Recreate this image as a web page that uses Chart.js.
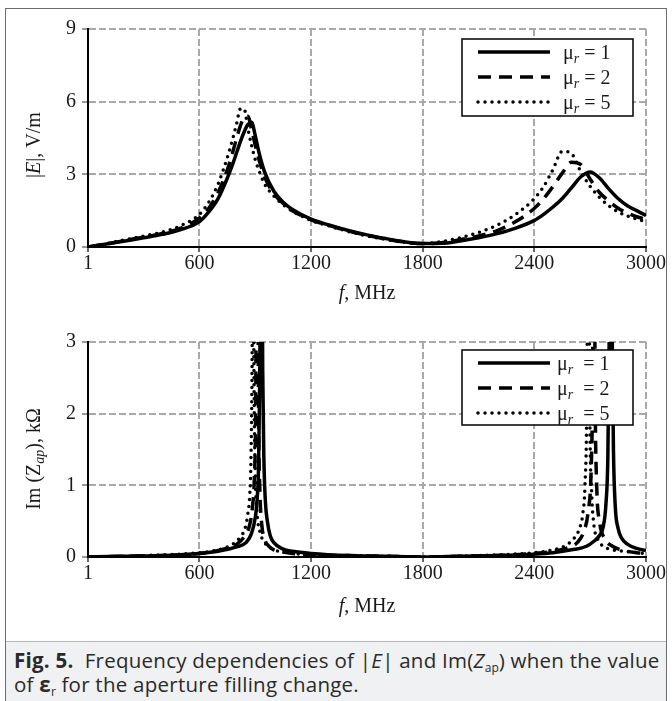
<!DOCTYPE html>
<html>
<head>
<meta charset="utf-8">
<script src="https://cdn.jsdelivr.net/npm/chart.js@4.4.1/dist/chart.umd.min.js"></script>
<style>
  body { margin: 0; background: #fff; width: 672px; height: 701px; overflow: hidden; position: relative; }
  #frame { position: absolute; left: 5px; top: 8px; width: 662px; height: 700px; border: 1.5px solid #6d6d6d; box-sizing: border-box; }
  #caption { position: absolute; left: 6px; top: 641px; width: 660px; height: 70px; background: #f0f1f3;
    border-top: 1px solid #b8b8b8; box-sizing: border-box; padding: 6px 0 0 8px;
    font-family: "Open Sans", sans-serif; font-size: 20.5px; letter-spacing: 0.25px; line-height: 24px; color: #2a2a2a; white-space: nowrap; }
  #caption sub { font-size: 12px; vertical-align: -4px; line-height: 0; letter-spacing: 0; }
  canvas { position: absolute; left: 0; }
</style>
</head>
<body>
<div id="frame"></div>
<canvas id="chartE" width="672" height="320" style="top:0"></canvas>
<canvas id="chartZ" width="672" height="320" style="top:320px"></canvas>
<div id="caption"><b>Fig. 5.</b>&nbsp; Frequency dependencies of |<i>E</i>| and Im(<i>Z</i><sub>ap</sub>) when the value<br>of <b>ε</b><sub>r</sub> for the aperture filling change.</div>
<script>
// --- data ---
const xTicks = [1, 600, 1200, 1800, 2400, 3000];
const muValues = [1, 2, 5];

// |E|, V/m
const freqE = [1, 100, 200, 300, 400, 500, 600, 650, 700, 750, 780, 800, 820, 840, 860, 880, 900, 920, 950,
  1000, 1050, 1100, 1200, 1300, 1400, 1500, 1600, 1700, 1800, 1900, 2000, 2100, 2200, 2300, 2400,
  2450, 2500, 2550, 2600, 2650, 2700, 2750, 2800, 2850, 2900, 2950, 3000];
const eMu1 = [0.0, 0.12, 0.25, 0.38, 0.52, 0.72, 1.05, 1.45, 2.0, 2.85, 3.45, 3.9, 4.35, 4.75, 5.05, 5.15, 4.6, 3.9, 3.1,
  2.3, 1.85, 1.55, 1.15, 0.9, 0.68, 0.5, 0.35, 0.22, 0.14, 0.15, 0.25, 0.38, 0.55, 0.78, 1.1,
  1.35, 1.65, 2.0, 2.45, 2.9, 3.1, 2.85, 2.4, 2.0, 1.7, 1.5, 1.3];
const eMu2 = [0.0, 0.13, 0.27, 0.41, 0.56, 0.78, 1.2, 1.6, 2.25, 3.2, 3.95, 4.5, 5.0, 5.35, 5.4, 4.85, 4.2, 3.6, 2.9,
  2.2, 1.8, 1.5, 1.12, 0.88, 0.66, 0.48, 0.33, 0.21, 0.14, 0.18, 0.3, 0.46, 0.68, 1.05, 1.6,
  2.0, 2.5, 3.05, 3.5, 3.4, 2.8, 2.25, 1.9, 1.6, 1.4, 1.25, 1.15];
const eMu5 = [0.0, 0.14, 0.3, 0.45, 0.62, 0.88, 1.35, 1.85, 2.6, 3.7, 4.5, 5.1, 5.7, 5.7, 4.9, 4.2, 3.6, 3.15, 2.6,
  2.1, 1.75, 1.48, 1.1, 0.86, 0.64, 0.46, 0.31, 0.2, 0.14, 0.22, 0.38, 0.6, 0.9, 1.35, 2.0,
  2.5, 3.2, 3.95, 3.85, 3.1, 2.5, 2.05, 1.7, 1.45, 1.28, 1.15, 1.05];

// Im(Z_ap), kOhm (resonances run off the top of the axis)
const freqZ1 = [1, 200, 400, 600, 700, 800, 850, 880, 900, 910, 918, 924, 932, 940, 946, 955, 965, 980,
  1000, 1050, 1100, 1200, 1400, 1600, 1800, 2000, 2200, 2400, 2500, 2600,
  2680, 2720, 2750, 2770, 2785, 2795, 2802, 2810, 2818, 2825, 2835, 2850, 2870, 2900, 2950, 3000];
const zMu1 = [0, 0.01, 0.02, 0.05, 0.08, 0.14, 0.2, 0.33, 0.55, 0.8, 1.3, 2.5, 6, 2.6, 1.4, 0.75, 0.5, 0.3,
  0.2, 0.11, 0.08, 0.05, 0.02, 0.01, 0.0, 0.01, 0.02, 0.04, 0.06, 0.1,
  0.15, 0.22, 0.3, 0.42, 0.75, 1.4, 3.0, 6, 3.2, 1.5, 0.7, 0.4, 0.26, 0.18, 0.12, 0.09];
const freqZ2 = [1, 200, 400, 600, 700, 800, 840, 870, 885, 895, 902, 910, 918, 925, 935, 950, 970,
  1000, 1050, 1100, 1200, 1400, 1600, 1800, 2000, 2200, 2400, 2500,
  2580, 2630, 2665, 2690, 2705, 2713, 2720, 2727, 2735, 2750, 2780, 2820, 2880, 2950, 3000];
const zMu2 = [0, 0.01, 0.02, 0.05, 0.09, 0.18, 0.28, 0.45, 0.7, 1.1, 2.0, 6, 1.9, 0.9, 0.45, 0.25, 0.16,
  0.1, 0.07, 0.05, 0.03, 0.02, 0.01, 0.0, 0.01, 0.02, 0.05, 0.08,
  0.13, 0.2, 0.35, 0.65, 1.2, 2.4, 6, 2.2, 1.0, 0.5, 0.25, 0.15, 0.09, 0.06, 0.05];
const freqZ5 = [1, 200, 400, 600, 700, 780, 820, 845, 860, 870, 877, 883, 888, 893, 900, 910, 925, 945, 970,
  1000, 1050, 1100, 1200, 1400, 1600, 1800, 2000, 2200, 2400, 2500,
  2560, 2610, 2640, 2660, 2672, 2682, 2690, 2698, 2708, 2720, 2740, 2770, 2820, 2880, 2950, 3000];
const zMu5 = [0, 0.01, 0.03, 0.06, 0.1, 0.18, 0.28, 0.4, 0.6, 0.85, 1.4, 2.8, 6, 2.6, 1.2, 0.6, 0.35, 0.22, 0.15,
  0.1, 0.07, 0.05, 0.03, 0.02, 0.01, 0.0, 0.01, 0.03, 0.06, 0.1,
  0.15, 0.25, 0.38, 0.6, 1.0, 2.2, 6, 2.0, 0.9, 0.45, 0.25, 0.15, 0.1, 0.08, 0.06, 0.05];

const SERIF = '"Liberation Serif", "Times New Roman", serif';
const INK = '#1a1a1a';
const lineStyles = [
  { dash: [], cap: 'butt' },
  { dash: [13, 8], cap: 'butt' },
  { dash: [0, 7], cap: 'round' }
];

const pairs = (xs, ys) => xs.map((x, i) => ({ x: x, y: ys[i] }));

// draws a run of text pieces (italic / subscript) on one baseline
function drawRich(ctx, segs, x, y, size, align) {
  const font = s => (s.i ? 'italic ' : '') + (s.sub ? Math.round(size * 0.72) : size) + 'px ' + SERIF;
  let w = 0;
  segs.forEach(s => { ctx.font = font(s); w += ctx.measureText(s.t).width; });
  let cx = align === 'left' ? x : x - w / 2;
  ctx.textBaseline = 'alphabetic';
  ctx.textAlign = 'left';
  segs.forEach(s => {
    ctx.font = font(s);
    ctx.fillText(s.t, cx, y + (s.sub ? size * 0.22 : 0));
    cx += ctx.measureText(s.t).width;
  });
}

const decor = {
  id: 'decor',
  afterDraw(chart, args, o) {
    const ctx = chart.ctx, a = chart.chartArea;
    ctx.save();
    ctx.fillStyle = INK;
    drawRich(ctx, o.xTitle, (a.left + a.right) / 2, a.bottom + o.xTitleGap, 20, 'center');
    ctx.save();
    ctx.translate(40, o.yTitleY);
    ctx.rotate(-Math.PI / 2);
    drawRich(ctx, o.yTitle, 0, 0, 20, 'center');
    ctx.restore();

    // legend box
    const L = o.legend;
    const bx = a.right - 184, by = a.top + L.top;
    ctx.fillStyle = '#fff';
    ctx.fillRect(bx, by, 171, L.h);
    ctx.lineWidth = 1.5;
    ctx.strokeStyle = '#000';
    ctx.strokeRect(bx, by, 171, L.h);
    chart.data.datasets.forEach((ds, i) => {
      const ry = by + 13 + i * 25;
      ctx.beginPath();
      ctx.setLineDash(ds.borderDash);
      ctx.lineCap = ds.borderCapStyle;
      ctx.lineWidth = ds.borderWidth;
      ctx.moveTo(bx + 16, ry);
      ctx.lineTo(bx + 88, ry);
      ctx.stroke();
      ctx.setLineDash([]);
      ctx.fillStyle = INK;
      drawRich(ctx, [{ t: 'μ' }, { t: 'r', i: true, sub: true }, { t: L.sep + muValues[i] }], bx + L.textX, ry + 7, 20, 'left');
    });
    ctx.restore();
  }
};

function makeChart(id, series, cfg) {
  const datasets = series.map((pts, i) => ({
    label: 'μr = ' + muValues[i],
    data: pts,
    borderColor: '#000',
    borderWidth: 3.5,
    borderDash: lineStyles[i].dash,
    borderCapStyle: lineStyles[i].cap,
    borderJoinStyle: 'round',
    pointRadius: 0,
    fill: false,
    cubicInterpolationMode: 'monotone'
  }));
  const gridColor = c => c.index === 0 ? 'rgba(0,0,0,0)' : '#a9a9a9';
  return new Chart(document.getElementById(id), {
    type: 'line',
    data: { datasets: datasets },
    plugins: [decor],
    options: {
      responsive: false,
      animation: false,
      devicePixelRatio: 1,
      layout: { padding: { top: cfg.padTop, right: 26, left: 0, bottom: 0 } },
      plugins: {
        legend: { display: false },
        tooltip: { enabled: false },
        decor: cfg.decor
      },
      scales: {
        x: {
          type: 'linear', min: 1, max: 3000,
          afterBuildTicks: s => { s.ticks = xTicks.map(v => ({ value: v })); },
          afterFit: s => { s.height = cfg.xHeight; s.paddingLeft = 0; s.paddingRight = 0; },
          ticks: { font: { family: SERIF, size: 20 }, color: INK, padding: 0, maxRotation: 0, autoSkip: false,
            callback: v => String(v) },
          grid: { color: gridColor, lineWidth: 2, tickColor: '#333', tickLength: 5, tickWidth: 1.5 },
          border: { display: true, color: '#000', width: 2, dash: [7, 3] }
        },
        y: {
          min: 0, max: cfg.yMax,
          afterFit: s => { s.width = 88; s.paddingTop = 0; s.paddingBottom = 0; },
          ticks: { stepSize: cfg.yStep, font: { family: SERIF, size: 20 }, color: INK, padding: 6,
            callback: v => String(v) },
          grid: { color: gridColor, lineWidth: 2, tickColor: '#777', tickLength: 6, tickWidth: 1.5 },
          border: { display: true, color: '#000', width: 2, dash: [7, 3] }
        }
      }
    }
  });
}

makeChart('chartE', [pairs(freqE, eMu1), pairs(freqE, eMu2), pairs(freqE, eMu5)], {
  padTop: 29, xHeight: 73, yMax: 9, yStep: 3,
  decor: {
    xTitle: [{ t: 'f', i: true }, { t: ', MHz' }], xTitleGap: 52,
    yTitle: [{ t: '|' }, { t: 'E', i: true }, { t: '|, V/m' }], yTitleY: 145,
    legend: { top: 10, h: 77, textX: 101, sep: ' = ' }
  }
});

makeChart('chartZ', [pairs(freqZ1, zMu1), pairs(freqZ2, zMu2), pairs(freqZ5, zMu5)], {
  padTop: 22, xHeight: 83, yMax: 3, yStep: 1,
  decor: {
    xTitle: [{ t: 'f', i: true }, { t: ', MHz' }], xTitleGap: 55,
    yTitle: [{ t: 'Im (Z' }, { t: 'ap', i: true, sub: true }, { t: '), kΩ' }], yTitleY: 139,
    legend: { top: 8, h: 75, textX: 95, sep: '  = ' }
  }
});
</script>
</body>
</html>
